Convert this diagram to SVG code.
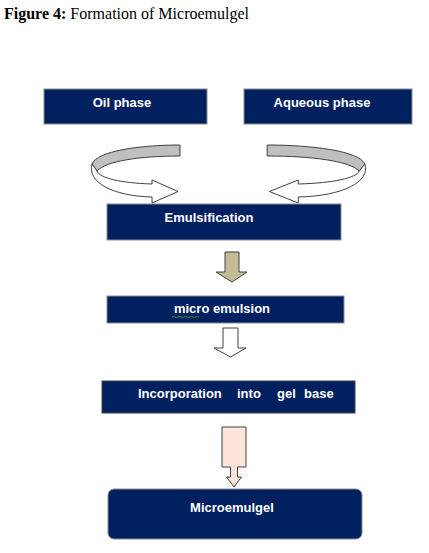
<svg xmlns="http://www.w3.org/2000/svg" width="429" height="553" viewBox="0 0 429 553">
<style>
.box{fill:#002060;stroke:#8c8c8c;stroke-width:1}
.lbl{fill:#ffffff;font-family:"Liberation Sans",Arial,sans-serif;font-weight:bold;font-size:13px}
.arr{stroke:#404040;stroke-width:1;stroke-linejoin:miter}
.title{font-family:"Liberation Serif","Times New Roman",serif;font-size:16px;fill:#000}
</style>
<rect width="429" height="553" fill="#ffffff"/>
<text class="title" x="4" y="19"><tspan font-weight="bold">Figure 4:</tspan> Formation of Microemulgel</text>

<g id="oil">
<rect class="box" x="44" y="89" width="163" height="35"/>
<text class="lbl" x="122" y="107" text-anchor="middle">Oil phase</text>
</g>
<g id="aqueous">
<rect class="box" x="244" y="89" width="168" height="35"/>
<text class="lbl" x="322" y="107" text-anchor="middle">Aqueous phase</text>
</g>
<g id="emulsification">
<rect class="box" x="107" y="204" width="234" height="36"/>
<text class="lbl" x="209" y="222" text-anchor="middle">Emulsification</text>
</g>
<g id="microemulsion">
<rect class="box" x="107" y="296" width="237" height="27"/>
<text class="lbl" x="222" y="313" text-anchor="middle">micro emulsion</text>
<path d="M172,317 q1.5,-1.5 3,0 t3,0 t3,0 t3,0 t3,0 t3,0 t3,0 t3,0 t3,0" fill="none" stroke="#3c9a3c" stroke-width="1"/>
</g>
<g id="incorporation">
<rect class="box" x="102" y="381" width="253" height="32" style="stroke:#404040"/>
<text class="lbl" y="398"><tspan x="138">Incorporation</tspan><tspan x="237">into</tspan><tspan x="277">gel</tspan><tspan x="304">base</tspan></text>
</g>
<g id="microemulgel">
<rect class="box" x="108" y="489" width="254" height="50" rx="6" ry="6"/>
<text class="lbl" x="232" y="512" text-anchor="middle">Microemulgel</text>
</g>

<g id="connectors">
<g id="curve-left">
<path class="arr" fill="#bfbfbf" d="M180,145 L180,156 C140,156 106,161 97,171 L92,164 C97,151 140,145 180,145 Z"/>
<path class="arr" fill="#ffffff" d="M92,164 C87,182 112,196 152,197 L152,203 L178,191.5 L152,180 L152,184 C120,183 100,178 97,171 Z"/>
</g>
<g id="curve-right" transform="matrix(-1.11,0,0,1,467,0)">
<path class="arr" vector-effect="non-scaling-stroke" fill="#bfbfbf" d="M180,145 L180,156 C140,156 106,161 97,171 L92,164 C97,151 140,145 180,145 Z"/>
<path class="arr" vector-effect="non-scaling-stroke" fill="#ffffff" d="M92,164 C87,182 112,196 152,197 L152,203 L178,191.5 L152,180 L152,184 C120,183 100,178 97,171 Z"/>
</g>
<path id="arrow1" class="arr" fill="#c4bc96" stroke="#5f5a44" d="M225,252 L239,252 L239,272 L247,272 L232,282 L216,272 L225,272 Z"/>
<path id="arrow2" class="arr" fill="#ffffff" d="M223,328 L238,328 L238,348 L246,348 L230.5,357 L214,348 L223,348 Z"/>
<path id="arrow3" class="arr" fill="#fde4d8" d="M222,427 L246,427 L246,467 L237.5,467 L237.5,477 L241.5,477 L234,487 L226.5,477 L230.5,477 L230.5,467 L222,467 Z"/>
</g>
</svg>
